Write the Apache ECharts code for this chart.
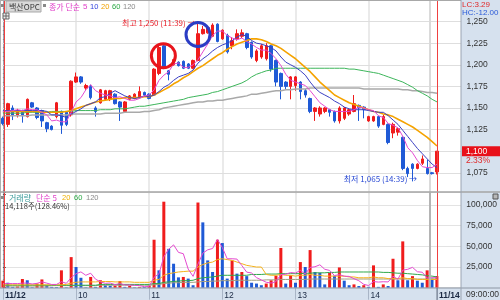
<!DOCTYPE html>
<html><head><meta charset="utf-8">
<script src="https://cdn.jsdelivr.net/npm/echarts@6/dist/echarts.min.js"></script>
<style>html,body{margin:0;padding:0;background:#fff;overflow:hidden}#c{width:500px;height:300px}</style>
</head><body><div id="c"></div>
<script>
// ---- categories (4-minute candles from 09:00) ----
const SLOTS = 95;
const categories = [];
for (let i = 0; i < SLOTS; i++) { const m = 540 + 4 * i; categories.push(String(Math.floor(m / 60)).padStart(2, '0') + ':' + String(m % 60).padStart(2, '0')); }
const xLabelIdx = [0, 15, 30, 45, 60, 75, 89];
const xLabelText = ['11/12', '10', '11', '12', '13', '14', '11/14'];

// ---- price candles ----
const opens = [1138,
 1131,1150,1141,1147,1140,1156,1150,1147,1133,1129,
 1140,1146,1145,1142,1180,1186,1173,1175,1150,1156,
 1160,1160,1166,1157,1146,1160,1161,1162,1168,1166,
 1165,1190,1222,1193,1200,1203,1204,1201,1196,1205,
 1236,1237,1233,1247,1230,1234,1222,1230,1233,1236,
 1226,1205,1209,1207,1222,1205,1190,1180,1175,1176,
 1180,1170,1161,1146,1143,1146,1148,1146,1135,1138,
 1143,1146,1153,1151,1135,1135,1140,1131,1131,1121,
 1122,1116,1080,1085,1080,1086,1080,1075,1076];
const closes = [1132,
 1155,1141,1147,1141,1160,1151,1139,1135,1126,1125,
 1156,1130,1131,1181,1186,1180,1176,1162,1146,1171,
 1170,1170,1155,1151,1157,1164,1166,1169,1165,1161,
 1195,1220,1197,1189,1206,1199,1196,1196,1205,1236,
 1241,1243,1246,1227,1240,1215,1228,1236,1237,1220,
 1209,1216,1222,1222,1195,1180,1175,1175,1186,1186,
 1169,1165,1146,1150,1150,1150,1145,1135,1150,1150,
 1148,1155,1150,1148,1140,1140,1129,1140,1110,1131,
 1126,1080,1074,1080,1085,1091,1074,1074,1100];
const lows = [1130,
 1128,1136,1139,1133,1139,1150,1137,1128,1122,1124,
 1138,1120,1129,1140,1179,1178,1171,1160,1140,1155,
 1159,1158,1154,1135,1145,1159,1160,1161,1164,1160,
 1164,1188,1195,1182,1199,1198,1195,1195,1195,1204,
 1235,1236,1232,1226,1229,1213,1218,1228,1231,1218,
 1207,1203,1207,1205,1192,1175,1160,1172,1160,1170,
 1160,1162,1144,1135,1140,1144,1140,1133,1132,1136,
 1141,1145,1135,1138,1134,1134,1127,1130,1108,1115,
 1118,1078,1070,1065,1079,1084,1073,1073,1073];
const highs = [1140,
 1156,1153,1149,1148,1161,1157,1151,1148,1134,1130,
 1157,1147,1146,1182,1191,1187,1178,1177,1152,1172,
 1171,1171,1167,1158,1158,1165,1167,1175,1169,1167,
 1196,1222,1224,1194,1207,1204,1205,1202,1206,1250,
 1245,1244,1248,1248,1241,1236,1232,1241,1241,1237,
 1227,1218,1224,1225,1223,1206,1191,1181,1187,1187,
 1181,1172,1162,1151,1152,1151,1149,1147,1152,1151,
 1149,1165,1154,1152,1141,1141,1141,1142,1132,1133,
 1127,1117,1082,1086,1086,1095,1090,1076,1100];

// ---- price moving averages ----
const ma5 = [1146,
 1146,1147,1148,1147,1149,1148,1148,1145,1142,1135,
 1136,1134,1134,1145,1157,1162,1171,1177,1170,1167,
 1165,1164,1162,1163,1161,1159,1159,1161,1164,1165,
 1171,1182,1188,1192,1201,1202,1197,1197,1200,1206,
 1215,1224,1234,1239,1239,1234,1231,1229,1231,1227,
 1224,1220,1217,1217,1213,1207,1199,1189,1182,
 1180,1178,1176,1170,1163,1156,1152,1148,1146,1146,
 1146,1146,1148,1151,1150,1148,1147,1141,1139,1132,
 1130,1127,1117,1104,1098,1089,1082,1081,1081,1085];
const ma10 = [1147,
 1147,1147,1147,1147,1147,1147,1147,1147,1146,1142,
 1142,1141,1139,1143,1146,1149,1153,1155,1157,1162,
 1163,1167,1170,1167,1164,1162,1161,1162,1164,1163,
 1165,1169,1174,1177,1182,1186,1188,1190,1194,1202,
 1207,1211,1216,1220,1223,1225,1228,1232,1235,1233,
 1228,1225,1224,1222,1220,1216,1209,1203,1200,
 1197,1193,1188,1180,1173,1168,1165,1162,1158,1155,
 1151,1149,1148,1148,1148,1147,1146,1145,1145,1141,
 1136,1131,1124,1117,1110,1103,1097,1091,1085,1081];
const ma20 = [1146,
 1146,1146,1146,1146,1146,1146,1146,1145,1145,1145,1145,1145,1146,
 1147,1149,1151,1153,1155,1157,1158,1159,1160,1161,1161,1162,1162,1162,1162,1163,1163,
 1165,1168,1171,1174,1178,1181,1185,1188,1192,1196,1199,1203,1207,1211,1214,1218,
 1221,1224,1226,1228,
 1230,1230,1229,1227,
 1224,1222,1219,1215,1211,1207,1202,1197,1192,1186,1180,1175,1170,1165,1162,1159,
 1156,1154,1152,1150,1148,1146,1145,1143,1142,1140,1137,1134,1131,1128,1124,1120,1116,1111,1106];
const ma60 = [1144,
 1144,1144,1144,1144,1145,1145,1145,1145,1145,1146,
 1146,1146,1146,1146,1147,1147,1147,1147,1147,1148,
 1148,1148,1149,1149,1149,1150,1151,1152,1152,1153,
 1154,1155,1156,1157,1158,1159,1160,1162,1163,1164,
 1165,1166,1168,1169,1171,1173,1175,1177,1179,1182,
 1186,1189,1191,1193,1194,1196,1196,1196,1196,
 1196,1196,1196,1196,1196,1196,1196,1196,1196,1196,
 1196,1195,1195,1194,1193,1192,1191,1190,1188,1186,
 1184,1182,1180,1177,1174,1170,1167,1164,1160,1157];
const ma120 = [1141,
 1141,1141,1141,1141,1141,1142,1142,1142,1142,1142,
 1142,1142,1142,1143,1143,1143,1143,1143,1143,1143,
 1144,1144,1144,1144,1145,1145,1145,1145,1146,1146,
 1147,1148,1150,1151,1152,1153,1154,1155,1156,1157,
 1157,1158,1158,1159,1159,1160,1161,1162,1163,1164,
 1166,1166,1167,1168,1169,1170,1170,1171,1171,
 1172,1172,1172,1173,1173,1173,1173,1173,1173,1173,
 1173,1173,1173,1173,1172,1172,1172,1172,1172,1172,
 1172,1172,1171,1171,1170,1170,1169,1168,1168,1167];

// ---- volume (thousand shares) ----
const volK = [
 8.5,6,1,1.5,10.5,9,0.6,5,10,3,
 1,0.8,21,0.5,37,25,12,0.5,13,1,
 9,3,2.5,2.6,8,1,2.5,0.5,1,0.8,
 2.5,58,21,104,47,29,12.5,13,11,3,
 103,79,33,19,58,54,11,33,17,19,
 14,6,5,3,5,9,14.5,48,5,15,
 6,31,25,45.5,19,18,4,18,14.5,24.5,
 8.5,3,4,2,3,1,27,1,4,2,
 35,9,56,9,14,8.5,6,21,11,14.118];
const volMa5 = [
 5,5,5,5,5.5,5.6,4.5,5.3,7,5.5,
 3.9,4,7.2,5.3,12.1,16.9,19.1,15,17.5,10.3,
 7.1,5.3,5.7,3.6,5,3.4,3.3,2.9,2.6,1.2,
 1.5,12.6,16.7,37.3,46.5,51.8,42.7,41.1,22.5,13.7,
 28.5,41.8,45.8,47.4,58.4,48.6,35,35,34.6,26.8,
 18.8,17.8,12.2,9.4,6.6,5.6,7.3,15.9,16.3,18.3,
 17.7,21,16.4,24.5,25.3,27.7,22.3,20.9,14.7,15.8,
 13.9,13.7,10.9,8.4,4.1,2.6,7.4,6.8,7.2,7,
 13.8,10.2,21.2,22.2,24.6,19.3,18.7,11.7,12.1,12.1];
const volMa20 = [
 3.5,3.5,3.5,3.5,3.5,3.5,3.5,3.5,3.5,3.5,3.5,3.5,3.5,
 4,5.5,6.5,7,
 7,7,7,7.5,7.5,7.5,7,7,7,7,6.5,6.5,6.5,6.5,
 9,10,15,17,18,19,19.5,20,20,25,28,30,31,34,35,34,33,31,29,27,26,25,25,
 16,15,15,16,15,15,14,15,15,16,15,15,14,14,14,14,14,13,13,12,
 12,12,13,12,12,11,11,11,12,11,11,10,10,10,10,10];
const volMa60 = [
 3,3,3,3,3,3,3,3,3,3,3,3,3,3,3,3,3,3,3,3,
 4,4,4,4,4,4,4,4,4,4,4,
 5,5,6.5,7,7.5,8,8.5,8.5,9,11,12,12.5,13,14,15,15,15,15,15,15,
 16,16,16,16.5,16.5,16.5,17,17,17,17,17,17.5,17.5,18,
 18,18,18.5,18.5,19,19,19,19,19,19,19,19,19,
 18.5,18.5,18,17.5,17.5,17,16.5,16,15.5,14.5,14,13];
const volMa120 = [
 2,2,2,2,2,2,2,2,2,2,
 2.5,2.5,2.5,2.5,2.5,2.5,2.5,2.5,2.5,2.5,
 3,3,3,3,3,3,3,3,3,3,3,
 3.5,4,5,5.5,6,6,6.5,6.5,6.5,7,
 7.5,7.5,8,8,8.5,8.5,8.5,9,9,9,
 9,9,9,9.5,9.5,9.5,10,10,10,10,10,10,
 10.5,10.5,10.5,10.5,10.5,10.5,10.5,10.5,10.5,10.5,
 10.5,10.5,10.5,10.5,10.5,10.5,10.5,10.5,10.5,10.5,
 10.5,10.5,10.5,10.5,10.5,10.5,10.5];

// ---- axis ticks / annotations ----
const priceTicks = [1075, 1100, 1125, 1150, 1175, 1200, 1225, 1250];
const lastPrice = 1100, lastPct = '2.33%';
const highMark = { idx: 40, price: 1250, text: '최고 1,250 (11:39) →' };
const lowMark = { idx: 84, price: 1065, text: '최저 1,065 (14:39) →' };
const circles = [ { x: 32.9, y: 1210.5, color: '#e8141c' }, { x: 40.0, y: 1235, color: '#2b3cc4' } ];
const timeLines = [ { x: 0.23, color: '#f04040' }, { x: 89, color: '#f04040' } ];
const auctionLine = 87.5;

const RED = '#f01c1c', BLUE = '#1f5ad6';
const FONT = '"Noto Sans CJK KR", "Noto Sans", sans-serif';
const NUMFONT = '"Liberation Sans", Arial, sans-serif';

const candleData = opens.map((o, i) => [o, closes[i], lows[i], highs[i]]);
const volData = volK.map((v, i) => ({ value: v, itemStyle: { color: (i === 0 || v > volK[i - 1]) ? RED : BLUE } }));

const G = { left: 2.9, width: 458.5 };
const hourSplit = (i) => i > 0 && i % 15 === 0 && i <= 75;
const fmt = (v) => v.toLocaleString('en-US');

function line(data, color, w, xi, yi, z) {
  return { type: 'line', data, xAxisIndex: xi, yAxisIndex: yi, showSymbol: false, symbol: 'none', silent: true,
    lineStyle: { color, width: w }, z: z || 4, animation: false };
}

const option = {
  animation: false,
  textStyle: { fontFamily: FONT },
  grid: [
    { left: G.left, width: G.width, top: -3.14, height: 197.5 },
    { left: G.left, width: G.width, top: 192.6, height: 95.1 }
  ],
  xAxis: [
    { type: 'category', gridIndex: 0, data: categories, boundaryGap: false,
      axisLine: { show: false }, axisTick: { show: false }, axisLabel: { show: false },
      splitLine: { show: true, interval: hourSplit, lineStyle: { color: '#e3e3e3', width: 1.5 } } },
    { type: 'category', gridIndex: 1, data: categories, boundaryGap: false,
      axisLine: { show: false },
      axisTick: { show: true, inside: false, length: 12, interval: (i) => (i % 15 === 0 && i <= 75) || i === 89, lineStyle: { color: '#a9b5c6' } },
      axisLabel: { show: true, interval: (i) => xLabelIdx.indexOf(i) >= 0, align: 'left', margin: 3, padding: [0, 0, 0, 2],
        fontSize: 8.5, color: '#1c2a44', fontFamily: NUMFONT,
        formatter: (v, i) => { const k = xLabelIdx.indexOf(i); if (k < 0) return ''; const t = xLabelText[k]; return t.indexOf('/') >= 0 ? '{b|' + t + '}' : t; },
        rich: { b: { fontWeight: 'bold', fontSize: 8.5, color: '#1c2a44', fontFamily: NUMFONT } } },
      splitLine: { show: true, interval: hourSplit, lineStyle: { color: '#e3e3e3', width: 1.5 } } },
    { type: 'value', gridIndex: 0, min: 0, max: SLOTS - 1, show: false },
    { type: 'value', gridIndex: 1, min: 0, max: SLOTS - 1, show: false }
  ],
  yAxis: [
    { type: 'value', gridIndex: 0, position: 'right', min: 1050, max: 1275, interval: 25,
      axisLine: { show: true, lineStyle: { color: '#9aa4b2' } },
      axisTick: { show: true, length: 3, lineStyle: { color: '#555' } },
      minorTick: { show: true, splitNumber: 5, length: 2, lineStyle: { color: '#888' } },
      splitLine: { show: false },
      axisLabel: { color: '#333', fontSize: 8.5, margin: 5, fontFamily: NUMFONT,
        formatter: (v) => (v === 1050 || v === 1275) ? '' : fmt(v) } },
    { type: 'value', gridIndex: 1, position: 'right', min: 0, max: 115, interval: 25,
      axisLine: { show: true, lineStyle: { color: '#9aa4b2' } },
      axisTick: { show: true, length: 3, lineStyle: { color: '#555' } },
      minorTick: { show: true, splitNumber: 5, length: 2, lineStyle: { color: '#888' } },
      splitLine: { show: true, lineStyle: { color: '#e3e3e3', width: 1 } },
      axisLabel: { color: '#333', fontSize: 8.5, margin: 5, fontFamily: NUMFONT, showMaxLabel: false,
        formatter: (v) => (v === 0 || v === 115) ? '' : fmt(v * 1000) } }
  ],
  series: [
    { type: 'line', xAxisIndex: 2, yAxisIndex: 0, data: [[0, 1250]], symbolSize: 0, lineStyle: { opacity: 0 }, silent: true, z: 1,
      markLine: { silent: true, symbol: ['none', 'none'], label: { show: false }, z: 1, animation: false,
        data: priceTicks.map(p => ({ yAxis: p, lineStyle: { color: '#dedede', width: 1, type: 'solid' } }))
          .concat([{ xAxis: auctionLine, lineStyle: { color: '#dadada', width: 2, type: 'solid' } }]) } },
    { type: 'candlestick', xAxisIndex: 0, yAxisIndex: 0, data: candleData, barWidth: 3, z: 3,
      itemStyle: { color: RED, color0: BLUE, borderColor: RED, borderColor0: BLUE, borderWidth: 1 },
      markPoint: { symbol: 'circle', symbolSize: 1, itemStyle: { color: 'rgba(0,0,0,0)' }, animation: false, silent: true,
        data: [
          { coord: [highMark.idx, highMark.price], label: { show: true, position: 'left', distance: 2, offset: [0, 1], formatter: highMark.text, color: '#e8202a', fontSize: 8, fontFamily: FONT } },
          { coord: [lowMark.idx, lowMark.price], label: { show: true, position: 'left', distance: 0, offset: [5, -2], formatter: lowMark.text, color: '#2a4ad4', fontSize: 8, fontFamily: FONT } }
        ] } },
    line(ma120, '#a9a9a9', 1.5, 0, 0),
    line(ma60, '#3cb55a', 1, 0, 0),
    line(ma20, '#f5a300', 1.6, 0, 0),
    line(ma10, '#3b40c2', 1, 0, 0),
    line(ma5, '#e44ad0', 1, 0, 0),
    { type: 'line', xAxisIndex: 2, yAxisIndex: 0, data: [[0, 1250]], symbolSize: 0, lineStyle: { opacity: 0 }, silent: true, z: 6,
      markLine: { silent: true, symbol: ['none', 'none'], label: { show: false }, z: 6, animation: false,
        data: timeLines.map(t => ({ xAxis: t.x, lineStyle: { color: t.color, width: 1, type: 'solid' } })) },
      markPoint: { animation: false, silent: true, z: 7,
        data: circles.map(c => ({ coord: [c.x, c.y], symbol: 'circle', symbolSize: 24, label: { show: false },
          itemStyle: { color: 'rgba(0,0,0,0)', borderColor: c.color, borderWidth: 3 } })) } },
    { type: 'bar', xAxisIndex: 1, yAxisIndex: 1, data: volData, barWidth: 3, z: 3 },
    line(volMa120, '#a39f80', 1, 1, 1),
    line(volMa60, '#2fa84a', 1, 1, 1),
    line(volMa20, '#f5b21c', 1, 1, 1),
    line(volMa5, '#e44ad0', 1, 1, 1),
    { type: 'line', xAxisIndex: 3, yAxisIndex: 1, data: [[0, 0]], symbolSize: 0, lineStyle: { opacity: 0 }, silent: true, z: 6,
      markLine: { silent: true, symbol: ['none', 'none'], label: { show: false }, z: 6, animation: false,
        data: timeLines.map(t => ({ xAxis: t.x, lineStyle: { color: t.color, width: 1, type: 'solid' } }))
          .concat([{ xAxis: auctionLine, lineStyle: { color: '#b4b4b4', width: 2, type: 'solid' } }]) } }
  ]
};

const chart = echarts.init(document.getElementById('c'), null, { renderer: 'canvas', width: 500, height: 300 });
chart.setOption(option);

function T(x, y, text, fill, size, family) {
  return { type: 'text', z: 100, silent: true,
    style: { x, y, text, fill, fontSize: size || 8, fontFamily: family || FONT, align: 'left', verticalAlign: 'middle', textAlign: 'left', textVerticalAlign: 'middle' } };
}
function R(x, y, w, h, fill, stroke, z) {
  return { type: 'rect', z: z == null ? -10 : z, silent: true, shape: { x, y, width: w, height: h }, style: { fill, stroke: stroke || null, lineWidth: 1 } };
}
function L(x1, y1, x2, y2, color, w, z) {
  return { type: 'line', z: z == null ? 90 : z, silent: true, shape: { x1, y1, x2, y2 }, style: { stroke: color, lineWidth: w || 1 } };
}

const yLast = chart.convertToPixel({ yAxisIndex: 0 }, lastPrice);
const PANEL = '#d6e1ee';
const els = [
  R(461, 0, 39, 300, PANEL, null, -10),
  R(0, 288, 500, 12, PANEL, null, -10),
  L(0, 0.5, 461, 0.5, '#a8a8a8', 1),
  L(0.5, 0, 0.5, 288, '#b0b0b0', 1),
  L(0, 192, 500, 192, '#a4a4a4', 1.5),
  L(0, 288, 500, 288, '#8c96a4', 1),
  L(461, 0, 461, 300, '#9aa4b2', 1),
  L(437, 288, 437, 300, '#6a7486', 1),
  // legend top
  R(1, 4, 3, 3, '#888', null, 95),
  R(6, 1, 35, 11, '#d9d9d9', '#a9a9a9', 95),
  T(9, 6.8, '백산OPC', '#333', 8),
  R(43, 4, 3, 3, '#888', null, 95),
  T(49, 6.8, '종가 단순', '#e03bc8', 8),
  T(83, 6.8, '5', '#e03bc8', 8, NUMFONT),
  T(90, 6.8, '10', '#3344dd', 7.5, NUMFONT),
  T(101, 6.8, '20', '#f0a000', 7.5, NUMFONT),
  T(112, 6.8, '60', '#2aa844', 7.5, NUMFONT),
  T(123, 6.8, '120', '#8a8a8a', 7.5, NUMFONT),
  // panel icon
  R(3, 13, 6, 6, '#eeeeee', '#666', 95),
  L(6, 13, 6, 19, '#666', 1, 96), L(3, 16, 9, 16, '#666', 1, 96),
  // volume legend
  R(1, 196, 3, 3, '#888', null, 95),
  T(9, 198, '거래량', '#3a9a9a', 8),
  T(36, 198, '단순 5', '#e03bc8', 8),
  T(62, 198, '20', '#f0b000', 7.5, NUMFONT),
  T(74, 198, '60', '#2aa844', 7.5, NUMFONT),
  T(86, 198, '120', '#8a8a8a', 7.5, NUMFONT),
  T(5, 206.5, '14,118주(128.46%)', '#333', 7.5),
  R(493, 194, 5, 5, '#b8b8b8', '#555', 95),
  // right panel texts
  T(462, 4.5, 'LC:3.29', '#e02828', 8, NUMFONT),
  T(462, 12.5, 'HC:-12.00', '#2a5ad8', 8, NUMFONT),
  R(462, yLast - 5, 38, 10, '#e8101a', null, 95),
  T(466, yLast, fmt(lastPrice), '#ffffff', 8.5, NUMFONT),
  T(466, yLast + 9, lastPct, '#e02828', 8.5, NUMFONT),
  T(466, 294.5, '09:00:00', '#333', 8.5, NUMFONT)
];
chart.setOption({ graphic: { elements: els } });
</script>
</body></html>
